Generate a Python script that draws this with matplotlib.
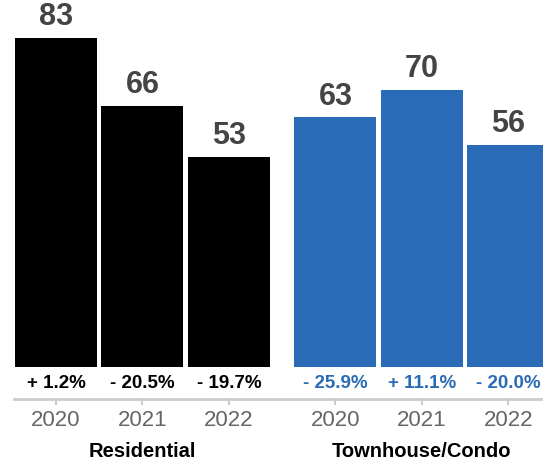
import matplotlib
matplotlib.use("Agg")
import matplotlib.pyplot as plt

plt.rcParams['font.family'] = ['Liberation Sans', 'DejaVu Sans']

groups = ["Residential", "Townhouse/Condo"]
years = ["2020", "2021", "2022"]
residential = [83, 66, 53]
townhouse = [63, 70, 56]
res_change = ["+ 1.2%", "- 20.5%", "- 19.7%"]
town_change = ["- 25.9%", "+ 11.1%", "- 20.0%"]

black = "#000000"
blue = "#2a6bb8"

fig = plt.figure(figsize=(5.43, 4.64), dpi=100)
ax = fig.add_axes([0, 0, 1, 1])
ax.set_xlim(-0.647, 5.63)
ax.set_ylim(-24.2, 92.9)
ax.axis("off")

pos1 = [0, 1, 2]
pos2 = [3.23, 4.23, 5.23]
w = 0.948

for positions, vals, changes, col in [(pos1, residential, res_change, black),
                                       (pos2, townhouse, town_change, blue)]:
	ax.bar(positions, vals, width=w, color=col)
	for x, v, c, yr in zip(positions, vals, changes, years):
		ax.annotate(str(v), (x, v), xytext=(0, 5), textcoords="offset points",
			ha="center", va="bottom", fontsize=22, fontweight="bold", color="#444444")
		ax.text(x, -4.0, c, ha="center", va="center", fontsize=13.5,
			fontweight="bold", color=col)
		ax.plot([x, x], [-8.1, -9.4], color="#cccccc", lw=1.5)
		ax.text(x, -13.2, yr, ha="center", va="center", fontsize=16, color="#666666")

ax.plot([-0.48, 5.7], [-8.1, -8.1], color="#cccccc", lw=2)

ax.text(1, -21.0, groups[0], ha="center", va="center", fontsize=14.5,
	fontweight="bold", color="#000000")
ax.text(4.23, -21.0, groups[1], ha="center", va="center", fontsize=14.5,
	fontweight="bold", color="#000000")

fig.savefig("out.png", dpi=100)
